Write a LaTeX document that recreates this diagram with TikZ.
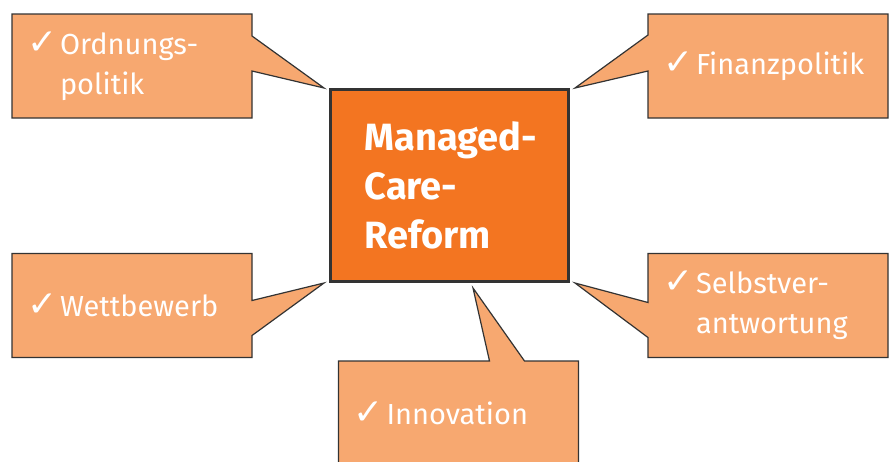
\documentclass[tikz,border=0pt]{standalone}
\usepackage{fontspec}
\setmainfont{Fira Sans}
\newfontfamily\hakenfont{DejaVu Sans}
\usetikzlibrary{calc,backgrounds}
\definecolor{hellorange}{HTML}{F7A870}
\definecolor{dunkelorange}{HTML}{F37521}
\definecolor{rahmen}{HTML}{333333}
\newcommand{\haken}{\makebox[33pt][l]{\hakenfont\fontsize{36}{36}\selectfont ✓}}
\tikzstyle{reform}=[fill=dunkelorange,draw=rahmen,line width=3pt,minimum width=238pt,minimum height=192pt,text width=170pt,align=left,inner sep=0pt,text=white,font=\bfseries\fontsize{38}{49}\selectfont]
\tikzstyle{blase}=[minimum width=240pt,minimum height=104pt,text width=210pt,inner sep=0pt,outer sep=0pt,align=left,text=white,font=\fontsize{29}{40}\selectfont]
\tikzstyle{spitze}=[fill=hellorange,draw=rahmen,line width=1.2pt,line join=miter]

\begin{document}
\begin{tikzpicture}[x=1pt,y=-1pt]
  \clip (0,0) rectangle (890,461);
  \node[reform] (mcr) at (449.5,185.5) {\mbox{Managed-}\\\mbox{Care-}\\Reform};
  \node[blase] (ord) at (132,66) {\haken Ordnungs-\\\hspace*{33pt}politik};
  \node[blase] (fin) at (768,66) {\haken Finanzpolitik};
  \node[blase] (wet) at (132,305.5) {\haken Wettbewerb};
  \node[blase] (sel) at (768,305.5) {\haken Selbstver-\\\hspace*{33pt}antwortung};
  \node[blase] (inn) at (458.5,413) {\haken Innovation};
  \begin{scope}[on background layer]
    \fill[white] (0,0) rectangle (890,461);
    % Sprechblasen mit Spitze zum Mittelkasten
    \draw[spitze] (ord.north west) -- (ord.north east) -- ($(ord.north east)+(0,22)$)
      -- ($(mcr.north west)+(-5,0)$) -- ($(ord.north east)+(0,57)$)
      -- (ord.south east) -- (ord.south west) -- cycle;
    \draw[spitze] (fin.north east) -- (fin.north west) -- ($(fin.north west)+(0,21)$)
      -- ($(mcr.north east)+(5,0)$) -- ($(fin.north west)+(0,57)$)
      -- (fin.south west) -- (fin.south east) -- cycle;
    \draw[spitze] (wet.north west) -- (wet.north east) -- ($(wet.north east)+(0,47)$)
      -- ($(mcr.south west)+(-5,0)$) -- ($(wet.north east)+(0,82)$)
      -- (wet.south east) -- (wet.south west) -- cycle;
    \draw[spitze] (sel.north east) -- (sel.north west) -- ($(sel.north west)+(0,49)$)
      -- ($(mcr.south east)+(5,0)$) -- ($(sel.north west)+(0,84)$)
      -- (sel.south west) -- (sel.south east) -- cycle;
    \draw[spitze] (inn.south west) -- (inn.north west) -- ($(inn.north west)+(151,0)$)
      -- ($(mcr.south)+(23.5,5)$) -- ($(inn.north west)+(186,0)$)
      -- (inn.north east) -- (inn.south east) -- cycle;
  \end{scope}
\end{tikzpicture}
\end{document}
